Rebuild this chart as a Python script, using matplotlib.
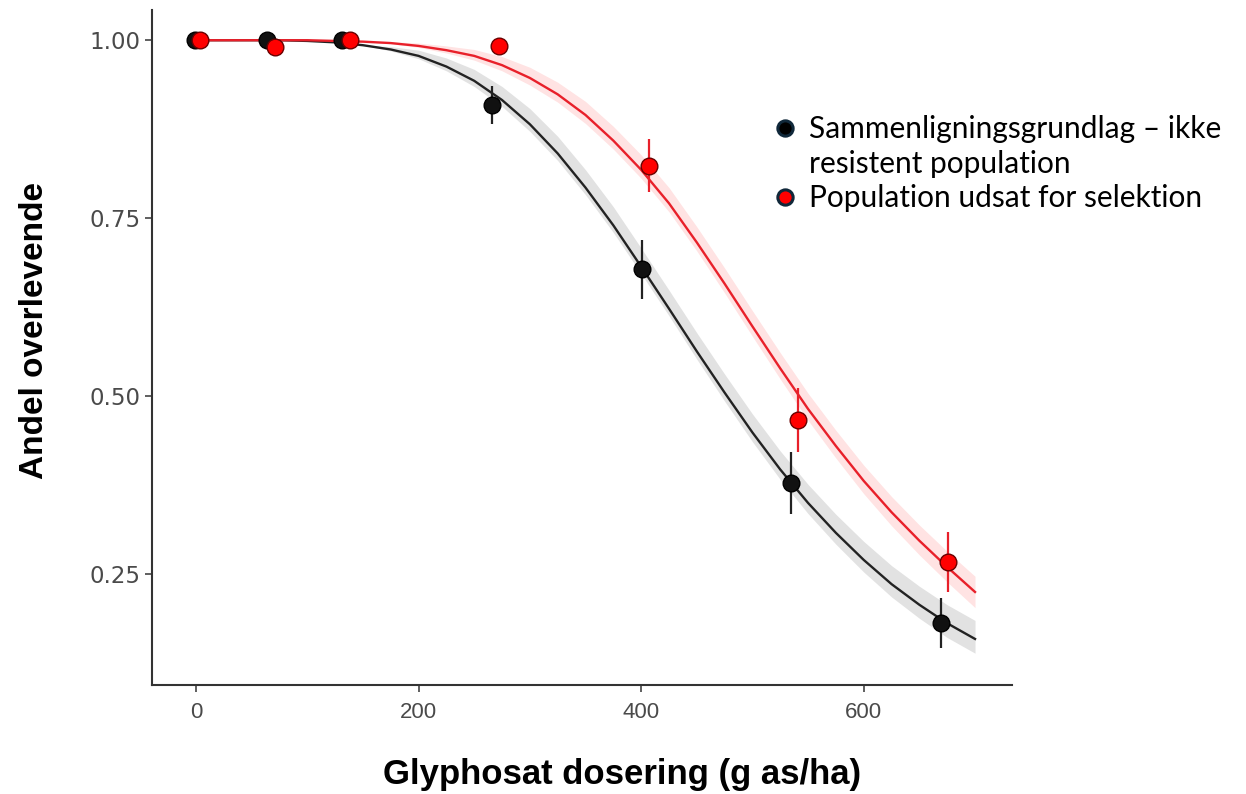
import numpy as np
import matplotlib
matplotlib.use('Agg')
import matplotlib.pyplot as plt
from matplotlib.lines import Line2D

# observerede punkter (dosis, andel overlevende, fejl)
ctrl_x = [-1, 64, 131, 266, 401, 535, 669]
ctrl_y = [1.00, 1.00, 1.00, 0.909, 0.678, 0.378, 0.181]
ctrl_err = [0, 0, 0, 0.026, 0.042, 0.044, 0.035]

sel_x = [4, 71, 138, 272, 407, 541, 676]
sel_y = [1.00, 0.990, 1.00, 0.992, 0.824, 0.466, 0.267]
sel_err = [0, 0, 0, 0, 0.037, 0.045, 0.042]

# fittede kurver
curve_x = [0, 25, 50, 75, 100, 125, 150, 175, 200, 225, 250, 275, 300, 325, 350,
           375, 400, 425, 450, 475, 500, 525, 550, 575, 600, 625, 650, 675, 700]
ctrl_curve = [1.000, 1.000, 1.000, 1.000, 0.999, 0.997, 0.993, 0.987, 0.978, 0.963,
              0.943, 0.916, 0.882, 0.841, 0.793, 0.740, 0.682, 0.623, 0.563, 0.505,
              0.449, 0.397, 0.350, 0.308, 0.270, 0.236, 0.207, 0.181, 0.159]
sel_curve = [1.000, 1.000, 1.000, 1.000, 1.000, 0.999, 0.998, 0.996, 0.992, 0.986,
             0.978, 0.965, 0.947, 0.924, 0.895, 0.859, 0.818, 0.771, 0.716, 0.658,
             0.598, 0.539, 0.482, 0.430, 0.381, 0.337, 0.297, 0.260, 0.225]

# konfidensbånd (afstand under / over kurven)
ctrl_lo = [0, 0, 0, 0, 0, 0, 0, 0.002, 0.004, 0.006, 0.008, 0.009, 0.010, 0.010, 0.010,
           0.010, 0.010, 0.010, 0.011, 0.012, 0.013, 0.014, 0.015, 0.016, 0.017, 0.018,
           0.019, 0.020, 0.020]
ctrl_hi = [0, 0, 0, 0, 0, 0, 0, 0.004, 0.008, 0.012, 0.016, 0.019, 0.022, 0.024, 0.025,
           0.026, 0.026, 0.026, 0.026, 0.026, 0.026, 0.026, 0.026, 0.026, 0.026, 0.026,
           0.026, 0.026, 0.026]
sel_lo = [0, 0, 0, 0, 0, 0, 0, 0.001, 0.002, 0.004, 0.006, 0.008, 0.010, 0.011, 0.012,
          0.012, 0.012, 0.012, 0.012, 0.013, 0.014, 0.015, 0.016, 0.017, 0.018, 0.019,
          0.020, 0.021, 0.022]
sel_hi = [0, 0, 0, 0, 0, 0, 0, 0.002, 0.004, 0.006, 0.009, 0.012, 0.015, 0.017, 0.019,
          0.020, 0.021, 0.022, 0.022, 0.022, 0.022, 0.022, 0.022, 0.022, 0.022, 0.022,
          0.022, 0.022, 0.022]

x_ticks = [0, 200, 400, 600]
y_ticks = [0.25, 0.50, 0.75, 1.00]
y_ticklabels = ['0.25', '0.50', '0.75', '1.00']
labels = ['Sammenligningsgrundlag – ikke', 'resistent population',
          'Population udsat for selektion']

fig = plt.figure(figsize=(12.46, 7.94), dpi=100)
ax = fig.add_axes([0.122, 0.137, 0.690, 0.850])

cx = np.array(curve_x)
cc = np.array(ctrl_curve)
sc = np.array(sel_curve)
ax.fill_between(cx, cc - np.array(ctrl_lo), cc + np.array(ctrl_hi),
                color='#e2e2e2', lw=0, zorder=1)
ax.fill_between(cx, sc - np.array(sel_lo), sc + np.array(sel_hi),
                color='#ffdede', lw=0, alpha=0.85, zorder=1)
ax.plot(cx, cc, color='#222222', lw=1.7, zorder=2)
ax.plot(cx, sc, color='#e8202a', lw=1.7, zorder=3)

ax.errorbar(ctrl_x, ctrl_y, yerr=ctrl_err, fmt='o', color='#111111', ecolor='#222222',
            elinewidth=1.6, ms=12, mec='#000000', mew=1, capsize=0, zorder=4)
ax.errorbar(sel_x, sel_y, yerr=sel_err, fmt='o', color='#ff0000', ecolor='#e8202a',
            elinewidth=1.6, ms=12, mec='#6a0000', mew=1, capsize=0, zorder=5)

ax.set_xlim(-39.5, 733)
ax.set_ylim(0.094, 1.042)
ax.set_xticks(x_ticks)
ax.set_yticks(y_ticks)
ax.set_yticklabels(y_ticklabels)

for side in ['top', 'right']:
    ax.spines[side].set_visible(False)
for side in ['left', 'bottom']:
    ax.spines[side].set_color('#333333')
    ax.spines[side].set_linewidth(1.5)

ax.tick_params(axis='both', direction='out', length=5, width=1.2, color='#444444')
ax.tick_params(axis='y', pad=3.5, labelcolor='#4a4a4a', labelsize=16.5)
ax.tick_params(axis='x', pad=7, labelcolor='#4a4a4a', labelsize=16)
for t in ax.get_yticklabels():
    t.set_fontfamily(['DejaVu Sans'])
for t in ax.get_xticklabels():
    t.set_fontfamily(['Liberation Sans'])

fig.text(0.028, 0.584, 'Andel overlevende', rotation=90, ha='center', va='center',
         fontsize=24, fontweight='bold', family=['Liberation Sans', 'DejaVu Sans'])
fig.text(0.499, 0.024, 'Glyphosat dosering (g as/ha)', ha='center', va='center',
         fontsize=25, fontweight='bold', family=['Liberation Sans', 'DejaVu Sans'])

handles = [
    Line2D([], [], ls='', marker='o', ms=11, mfc='#000000', mec='#10283a', mew=2.2),
    Line2D([], [], ls='', marker=''),
    Line2D([], [], ls='', marker='o', ms=11, mfc='#ff0000', mec='#10283a', mew=2.2),
]
fig.legend(handles, labels, loc='upper left', bbox_to_anchor=(0.618, 0.855),
           frameon=False, handlelength=1.0, handletextpad=0.3, borderpad=0,
           borderaxespad=0, labelspacing=0.22,
           prop={'family': ['Lato', 'DejaVu Sans'], 'size': 21.5})

fig.savefig('out.png', dpi=100)
